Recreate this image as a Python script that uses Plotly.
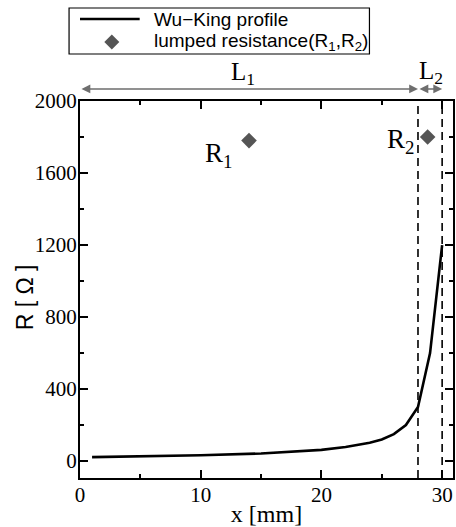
import plotly.graph_objects as go

# Wu-King profile
x_mm = [1, 5, 10, 15, 18, 20, 22, 23, 24, 25, 26, 27, 28, 29, 30]
r_ohm = [22, 25, 32, 42, 52, 62, 78, 88, 102, 120, 150, 200, 300, 600, 1200]

# lumped resistances
lump_x = [14, 28.8]
lump_r = [1780, 1800]
lump_labels = ["R<sub>1</sub>", "R<sub>2</sub>"]

# section boundaries
bounds = [0, 28, 30]
sec_labels = ["L<sub>1</sub>", "L<sub>2</sub>"]

# legend entries
legend_names = ["Wu−King profile", "lumped resistance(R<sub>1</sub>,R<sub>2</sub>)"]

x_ticks = [0, 10, 20, 30]
y_ticks = [0, 400, 800, 1200, 1600, 2000]

SERIF = "Liberation Serif"
SANS = "Liberation Sans"
GRAY = "#6e6e6e"
DIAMOND = "#555555"

# plot-area geometry in pixels (for placing the hand-drawn legend)
L, R, T, B = 80, 455, 101, 478
def px(xp):
    return (xp - L) / (R - L)
def py(yp):
    return (B - yp) / (B - T)

fig = go.Figure()
fig.add_trace(go.Scatter(x=x_mm, y=r_ohm, mode="lines", name="Wu−King profile",
                         line=dict(color="black", width=2.6), showlegend=False))
fig.add_trace(go.Scatter(x=lump_x, y=lump_r, mode="markers",
                         name="lumped resistance(R₁,R₂)", showlegend=False,
                         marker=dict(symbol="diamond", size=12, color=DIAMOND)))

# dashed boundary lines
for b in bounds[1:]:
    fig.add_shape(type="line", xref="x", yref="paper", x0=b, x1=b, y0=0, y1=1,
                  line=dict(color="black", width=1.6, dash="8px,5px"))

# L arrows
arrow_y = 1.032
for i in range(2):
    fig.add_annotation(xref="x", yref="paper", x=bounds[i + 1], y=arrow_y,
                       axref="x", ayref="pixel", ax=bounds[i], ay=0, text="",
                       showarrow=True, arrowside="end+start", arrowhead=2,
                       arrowsize=1.1, arrowwidth=1.6, arrowcolor=GRAY)
fig.add_annotation(xref="x", yref="paper", x=13.5, y=1.027, text=sec_labels[0],
                   showarrow=False, font=dict(family=SERIF, size=25, color="black"),
                   yanchor="bottom")
fig.add_annotation(xref="x", yref="paper", x=29.1, y=1.03, text=sec_labels[1],
                   showarrow=False, font=dict(family=SERIF, size=25, color="black"),
                   yanchor="bottom")

# R labels
fig.add_annotation(xref="x", yref="y", x=11.45, y=1700, text=lump_labels[0],
                   showarrow=False, font=dict(family=SERIF, size=27, color="black"))
fig.add_annotation(xref="x", yref="y", x=26.55, y=1780, text=lump_labels[1],
                   showarrow=False, font=dict(family=SERIF, size=27, color="black"))

# y-axis title placed precisely
fig.add_annotation(xref="paper", yref="paper", x=px(25), y=py(297), text="R [ Ω ]",
                   textangle=-90, showarrow=False, xanchor="center", yanchor="middle",
                   font=dict(family=SANS, size=23, color="black"))

# legend (drawn by hand to match the boxed layout)
fig.add_shape(type="rect", xref="paper", yref="paper",
              x0=px(69), x1=px(371), y0=py(54), y1=py(8),
              line=dict(color="black", width=1.2), fillcolor="white", layer="above")
fig.add_shape(type="line", xref="paper", yref="paper",
              x0=px(80), x1=px(140), y0=py(19), y1=py(19),
              line=dict(color="black", width=2.6), layer="above")
fig.add_shape(type="path", xref="paper", yref="paper", xsizemode="pixel", ysizemode="pixel",
              xanchor=px(112), yanchor=py(42),
              path="M0,-7.5 L7.5,0 L0,7.5 L-7.5,0 Z",
              line=dict(color=DIAMOND, width=0), fillcolor=DIAMOND, layer="above")
for name, yy in zip(legend_names, [19, 42]):
    fig.add_annotation(xref="paper", yref="paper", x=px(152), y=py(yy), text=name,
                       xanchor="left", yanchor="middle", showarrow=False,
                       font=dict(family=SANS, size=19, color="black"))

axis_common = dict(showline=True, linecolor="black", linewidth=2, mirror="ticks",
                   ticks="inside", tickcolor="black", tickwidth=1.5, ticklen=8,
                   showgrid=False, zeroline=False)
fig.update_layout(
    width=456, height=527,
    margin=dict(l=80, r=1, t=101, b=49),
    plot_bgcolor="white", paper_bgcolor="white",
    font=dict(family=SERIF, color="black", size=21),
    showlegend=False,
    xaxis=dict(range=[0, 30.9], tickmode="array", tickvals=x_ticks,
               tickfont=dict(family=SERIF, size=21, color="black"),
               ticklabelstandoff=-3,
               minor=dict(dtick=5, ticks="inside", ticklen=4, tickcolor="black", tickwidth=1.5),
               title=dict(text="x [mm]", font=dict(family=SERIF, size=24, color="black"), standoff=0),
               **axis_common),
    yaxis=dict(range=[-94, 2000], tickmode="array", tickvals=y_ticks,
               tickfont=dict(family=SERIF, size=21, color="black"),
               ticklabelstandoff=-3,
               minor=dict(dtick=200, tick0=0, ticks="inside", ticklen=4, tickcolor="black", tickwidth=1.5),
               **axis_common),
)

fig.write_html("out.html")
